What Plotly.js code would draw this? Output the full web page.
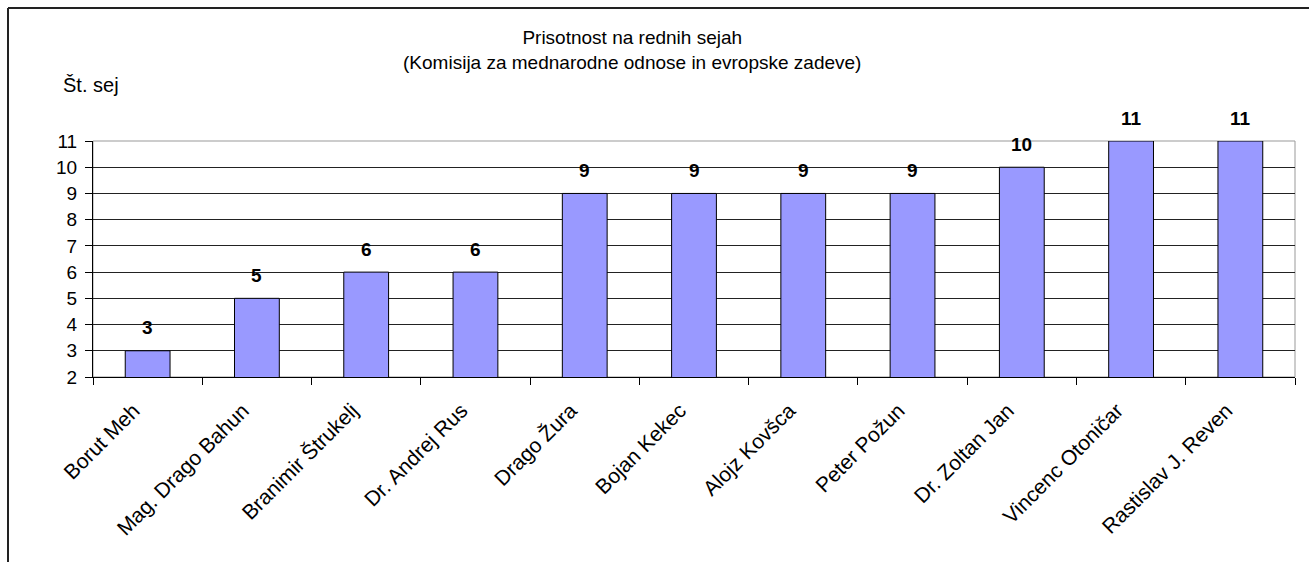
<!DOCTYPE html>
<html>
<head>
<meta charset="utf-8">
<script src="https://cdn.plot.ly/plotly-3.0.1.min.js"></script>
<style>html,body{margin:0;padding:0;background:#fff;}</style>
</head>
<body>
<div id="chart" style="width:1309px;height:562px;"></div>
<script>
const categories = ["Borut Meh", "Mag. Drago Bahun", "Branimir Štrukelj", "Dr. Andrej Rus", "Drago Žura", "Bojan Kekec", "Alojz Kovšca", "Peter Požun", "Dr. Zoltan Jan", "Vincenc Otoničar", "Rastislav J. Reven"];
const sessions = [3, 5, 6, 6, 9, 9, 9, 9, 10, 11, 11];
const yTicks = [2, 3, 4, 5, 6, 7, 8, 9, 10, 11];
const chartTitle = "Prisotnost na rednih sejah<br>(Komisija za mednarodne odnose in evropske zadeve)";
const yLabel = "Št. sej";

const FONT = "Liberation Sans, Arial, sans-serif";

const trace = {
  type: "bar",
  x: categories,
  y: sessions,
  base: 0,
  width: 0.41,
  marker: {color: "#9999FF", line: {color: "#000000", width: 1}},
  hoverinfo: "x+y"
};

const valueLabels = categories.map((c, i) => ({
  x: c, y: sessions[i], xref: "x", yref: "y",
  text: "<b>" + sessions[i] + "</b>",
  showarrow: false, yanchor: "middle", yshift: 23,
  font: {family: FONT, size: 19, color: "#000"}
}));

const layout = {
  width: 1309, height: 562,
  margin: {l: 93, r: 14, t: 141, b: 185},
  paper_bgcolor: "#fff", plot_bgcolor: "#fff",
  showlegend: false,
  font: {family: FONT, size: 19, color: "#000"},
  title: {
    text: chartTitle,
    x: 0.483, xref: "container", xanchor: "center",
    y: 1 - 44/562, yref: "container", yanchor: "middle",
    font: {family: FONT, size: 19, color: "#000"}
  },
  xaxis: {
    type: "category",
    tickangle: -45,
    ticks: "outside", ticklen: 7, tickcolor: "#000", tickson: "boundaries",
    ticklabelstandoff: 12,
    ticklabelshift: -14,
    showline: true, linecolor: "#000", linewidth: 1,
    showgrid: false, zeroline: false,
    tickfont: {family: FONT, size: 21, color: "#000"},
    range: [-0.5, categories.length - 0.5]
  },
  yaxis: {
    range: [2, 11],
    tickvals: yTicks,
    ticktext: yTicks.map(String),
    ticks: "outside", ticklen: 7, tickcolor: "#000",
    ticklabelstandoff: 4,
    showline: true, linecolor: "#000", linewidth: 1,
    showgrid: true, gridcolor: "#222", gridwidth: 1,
    zeroline: false,
    tickfont: {family: FONT, size: 19, color: "#000"}
  },
  annotations: [
    {
      text: yLabel, xref: "paper", yref: "paper",
      x: (61 - 93) / 1202, y: (377 - 85) / 236,
      xanchor: "left", yanchor: "middle", showarrow: false,
      font: {family: FONT, size: 20, color: "#000"}
    }
  ].concat(valueLabels),
  shapes: [
    {type: "rect", xref: "paper", yref: "paper", x0: 0, x1: 1, y0: 0, y1: 1,
     line: {color: "#999", width: 1}, layer: "below"},
    {type: "line", xref: "paper", yref: "paper",
     x0: (8 - 93) / 1202, x1: (8 - 93) / 1202, y0: (377 - 8) / 236, y1: (377 - 570) / 236,
     line: {color: "#222", width: 2}},
    {type: "line", xref: "paper", yref: "paper",
     x0: (8 - 93) / 1202, x1: (1320 - 93) / 1202, y0: (377 - 8) / 236, y1: (377 - 8) / 236,
     line: {color: "#222", width: 2}}
  ]
};

Plotly.newPlot("chart", [trace], layout, {displayModeBar: false, staticPlot: true});
</script>
</body>
</html>
